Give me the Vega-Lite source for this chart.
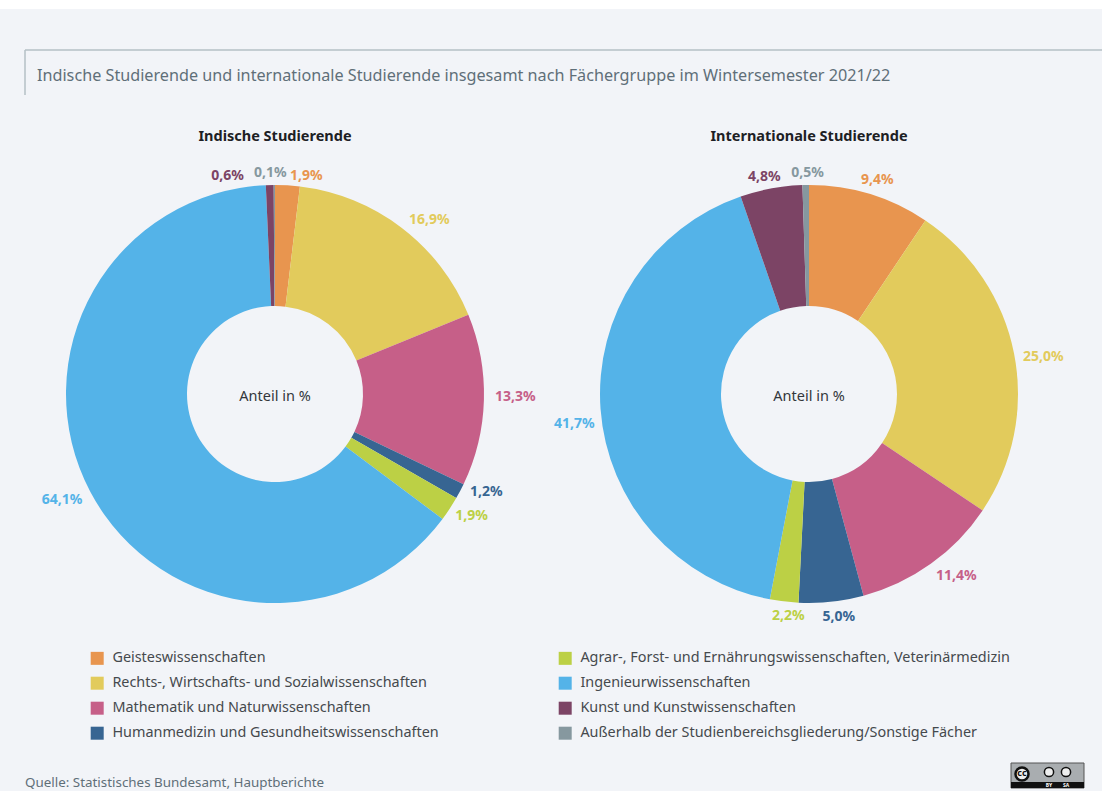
{
"$schema":"https://vega.github.io/schema/vega-lite/v6.json",
"width":1102,"height":782,"autosize":{"type":"none"},"padding":{"top":9,"left":0,"right":0,"bottom":0},
"background":"#ffffff",
"view":{"fill":"#f2f4f8","stroke":null},
"config":{"font":"Noto Sans","text":{"font":"Noto Sans"}},
"datasets":{"anteile":[
{"gruppe":"Indische Studierende","fach":"Geisteswissenschaften","anteil":1.9,"nr":1,"label":"1,9%"},
{"gruppe":"Indische Studierende","fach":"Rechts-, Wirtschafts- und Sozialwissenschaften","anteil":16.9,"nr":2,"label":"16,9%"},
{"gruppe":"Indische Studierende","fach":"Mathematik und Naturwissenschaften","anteil":13.3,"nr":3,"label":"13,3%"},
{"gruppe":"Indische Studierende","fach":"Humanmedizin und Gesundheitswissenschaften","anteil":1.2,"nr":4,"label":"1,2%"},
{"gruppe":"Indische Studierende","fach":"Agrar-, Forst- und Ernährungswissenschaften, Veterinärmedizin","anteil":1.9,"nr":5,"label":"1,9%"},
{"gruppe":"Indische Studierende","fach":"Ingenieurwissenschaften","anteil":64.1,"nr":6,"label":"64,1%"},
{"gruppe":"Indische Studierende","fach":"Kunst und Kunstwissenschaften","anteil":0.6,"nr":7,"label":"0,6%"},
{"gruppe":"Indische Studierende","fach":"Außerhalb der Studienbereichsgliederung/Sonstige Fächer","anteil":0.1,"nr":8,"label":"0,1%"},
{"gruppe":"Internationale Studierende","fach":"Geisteswissenschaften","anteil":9.4,"nr":1,"label":"9,4%"},
{"gruppe":"Internationale Studierende","fach":"Rechts-, Wirtschafts- und Sozialwissenschaften","anteil":25.0,"nr":2,"label":"25,0%"},
{"gruppe":"Internationale Studierende","fach":"Mathematik und Naturwissenschaften","anteil":11.4,"nr":3,"label":"11,4%"},
{"gruppe":"Internationale Studierende","fach":"Humanmedizin und Gesundheitswissenschaften","anteil":5.0,"nr":4,"label":"5,0%"},
{"gruppe":"Internationale Studierende","fach":"Agrar-, Forst- und Ernährungswissenschaften, Veterinärmedizin","anteil":2.2,"nr":5,"label":"2,2%"},
{"gruppe":"Internationale Studierende","fach":"Ingenieurwissenschaften","anteil":41.7,"nr":6,"label":"41,7%"},
{"gruppe":"Internationale Studierende","fach":"Kunst und Kunstwissenschaften","anteil":4.8,"nr":7,"label":"4,8%"},
{"gruppe":"Internationale Studierende","fach":"Außerhalb der Studienbereichsgliederung/Sonstige Fächer","anteil":0.5,"nr":8,"label":"0,5%"}
]},
"data":{"name":"anteile"},
"layer":[
{"transform":[{"stack":"anteil","groupby":["gruppe"],"sort":[{"field":"nr","order":"ascending"}],"as":["v0","v1"]},{"calculate":"(datum.v0+datum.v1)/2","as":"mid"},{"calculate":"datum.gruppe=='Indische Studierende'","as":"ind"}],
"encoding":{
"x":{"field":"gruppe","type":"nominal","scale":{"type":"point","padding":0,"range":[275,809],"domain":["Indische Studierende","Internationale Studierende"]},"axis":null},
"y":{"field":"gruppe","type":"nominal","scale":{"type":"point","padding":0,"range":[385,385]},"axis":null},
"theta":{"field":"mid","type":"quantitative","scale":{"domain":[0,100],"range":[0,6.28318530718]}},
"text":{"field":"label"},
"color":{"field":"fach","type":"nominal",
"scale":{"domain":["Geisteswissenschaften","Rechts-, Wirtschafts- und Sozialwissenschaften","Mathematik und Naturwissenschaften","Humanmedizin und Gesundheitswissenschaften","Agrar-, Forst- und Ernährungswissenschaften, Veterinärmedizin","Ingenieurwissenschaften","Kunst und Kunstwissenschaften","Außerhalb der Studienbereichsgliederung/Sonstige Fächer"],
"range":["#e8954f","#e2cb5c","#c65f88","#376592","#bcd045","#54b3e8","#7c4465","#86989f"]},
"legend":{"title":null,"orient":"none","legendX":90,"legendY":642,"columns":2,"columnPadding":119,"rowPadding":10,"symbolType":"square","symbolSize":169,"symbolStrokeWidth":0,"labelFontSize":14.4,"labelColor":"#45494d","labelFont":"Noto Sans","labelLimit":500,"labelOffset":8}}
},
"layer":[
{"mark":{"type":"arc","radius":209,"radius2":88},"encoding":{"theta":{"field":"v0","type":"quantitative","scale":{"domain":[0,100],"range":[0,6.28318530718]}},"theta2":{"field":"v1"},"text":null}},
{"transform":[{"filter":"datum.ind && datum.nr<=2"}],"mark":{"type":"text","radius":218,"align":"left","baseline":"middle","dx":2,"fontSize":14,"fontWeight":"bold"}},
{"transform":[{"filter":"datum.ind && datum.nr==5"}],"mark":{"type":"text","radius":218,"align":"left","baseline":"middle","dx":-2,"dy":2,"fontSize":14,"fontWeight":"bold"}},
{"transform":[{"filter":"datum.ind && (datum.nr==3||datum.nr==4)"}],"mark":{"type":"text","radius":218,"align":"left","baseline":"middle","dx":2,"dy":-3,"fontSize":14,"fontWeight":"bold"}},
{"transform":[{"filter":"!datum.ind && (datum.nr==2||datum.nr==3)"}],"mark":{"type":"text","radius":218,"align":"left","baseline":"middle","dy":5,"fontSize":14,"fontWeight":"bold"}},
{"transform":[{"filter":"datum.ind && datum.nr==6"}],"mark":{"type":"text","radius":218,"align":"right","baseline":"middle","dy":4,"fontSize":14,"fontWeight":"bold"}},
{"transform":[{"filter":"!datum.ind && datum.nr==6"}],"mark":{"type":"text","radius":218,"align":"right","baseline":"middle","dx":3,"dy":14,"fontSize":14,"fontWeight":"bold"}},
{"transform":[{"filter":"!datum.ind && datum.nr==1"}],"mark":{"type":"text","radius":224,"align":"center","baseline":"middle","dx":3,"fontSize":14,"fontWeight":"bold"}},
{"transform":[{"filter":"!datum.ind && (datum.nr==4||datum.nr==5)"}],"mark":{"type":"text","radius":224,"align":"center","baseline":"middle","dx":6,"fontSize":14,"fontWeight":"bold"}},
{"transform":[{"filter":"!datum.ind && datum.nr==8"}],"mark":{"type":"text","radius":224,"align":"center","baseline":"middle","dx":2,"dy":3,"fontSize":14,"fontWeight":"bold"}},
{"transform":[{"filter":"(!datum.ind && datum.nr==7) || (datum.ind && datum.nr==8)"}],"mark":{"type":"text","radius":224,"align":"center","baseline":"middle","dx":-4,"dy":3,"fontSize":14,"fontWeight":"bold"}},
{"transform":[{"filter":"datum.ind && datum.nr==7"}],"mark":{"type":"text","radius":218,"align":"center","baseline":"middle","dx":-42,"fontSize":14,"fontWeight":"bold"}},
{"transform":[{"filter":"datum.nr==1"}],"mark":{"type":"text","align":"center","baseline":"middle","dy":3,"fontSize":14.5,"color":"#33373b"},"encoding":{"theta":null,"color":null,"text":{"value":"Anteil in %"}}},
{"transform":[{"filter":"datum.nr==1"}],"mark":{"type":"text","align":"center","baseline":"middle","dy":-257,"fontSize":14.5,"fontWeight":"bold","color":"#1d2024"},"encoding":{"theta":null,"color":null,"text":{"field":"gruppe"}}}
]},
{"data":{"values":[{"t":"Indische Studierende und internationale Studierende insgesamt nach Fächergruppe im Wintersemester 2021/22"}]},
"mark":{"type":"text","align":"left","baseline":"middle","fontSize":16.2,"color":"#5f6f78"},
"encoding":{"x":{"value":37},"y":{"value":66.5},"text":{"field":"t"}}},
{"data":{"values":[{"t":"Quelle: Statistisches Bundesamt, Hauptberichte"}]},
"mark":{"type":"text","align":"left","baseline":"middle","fontSize":13.4,"color":"#5f6f78"},
"encoding":{"x":{"value":25},"y":{"value":773.5},"text":{"field":"t"}}},
{"data":{"values":[{"a":1}]},"mark":{"type":"rule","stroke":"#b4c0c6","strokeWidth":1.5},"encoding":{"x":{"value":25},"x2":{"value":1102},"y":{"value":41}}},
{"data":{"values":[{"a":1}]},"mark":{"type":"rule","stroke":"#b4c0c6","strokeWidth":1.5},"encoding":{"x":{"value":25},"y":{"value":41},"y2":{"value":86}}},
{"data":{"values":[{"a":1}]},"mark":{"type":"rect","fill":"#a9adb0","stroke":"#555555"},"encoding":{"x":{"value":1011},"x2":{"value":1084},"y":{"value":754},"y2":{"value":779}}},
{"data":{"values":[{"a":1}]},"mark":{"type":"rect","fill":"#111111"},"encoding":{"x":{"value":1011},"x2":{"value":1084},"y":{"value":773},"y2":{"value":779}}},
{"data":{"values":[{"a":1}]},"mark":{"type":"point","shape":"circle","filled":true,"fill":"#eeeeee","stroke":"#111111","strokeWidth":2.5,"size":170,"opacity":1},"encoding":{"x":{"value":1022},"y":{"value":765}}},
{"data":{"values":[{"a":1}]},"mark":{"type":"point","shape":"circle","filled":true,"fill":"#eeeeee","stroke":"#111111","strokeWidth":1.5,"size":85,"opacity":1},"encoding":{"x":{"value":1049},"y":{"value":763}}},
{"data":{"values":[{"a":1}]},"mark":{"type":"point","shape":"circle","filled":true,"fill":"#eeeeee","stroke":"#111111","strokeWidth":1.5,"size":85,"opacity":1},"encoding":{"x":{"value":1066},"y":{"value":763}}},
{"data":{"values":[{"a":1}]},"mark":{"type":"text","align":"center","baseline":"middle","fontSize":9,"fontWeight":"bold","color":"#111111"},"encoding":{"x":{"value":1022},"y":{"value":764},"text":{"value":"cc"}}},
{"data":{"values":[{"a":1}]},"mark":{"type":"text","align":"center","baseline":"middle","fontSize":5,"fontWeight":"bold","color":"#ffffff"},"encoding":{"x":{"value":1049},"y":{"value":776},"text":{"value":"BY"}}},
{"data":{"values":[{"a":1}]},"mark":{"type":"text","align":"center","baseline":"middle","fontSize":5,"fontWeight":"bold","color":"#ffffff"},"encoding":{"x":{"value":1066},"y":{"value":776},"text":{"value":"SA"}}}
]
}
